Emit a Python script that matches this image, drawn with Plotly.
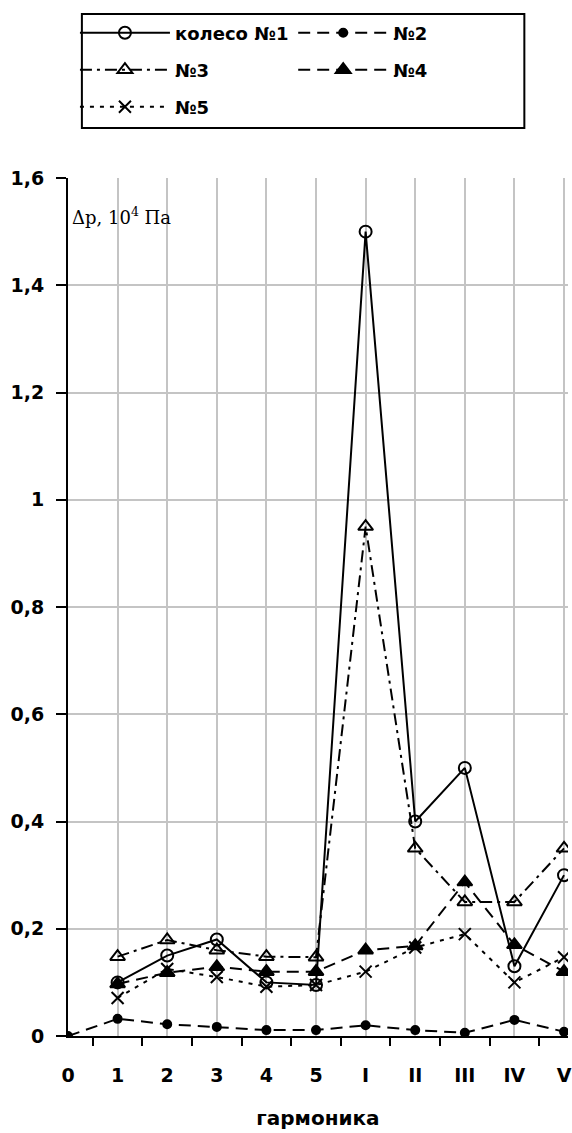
import plotly.graph_objects as go

# ---- data ----
harmonics = ["0", "1", "2", "3", "4", "5", "I", "II", "III", "IV", "V"]
wheel1 = [None, 0.10, 0.15, 0.18, 0.10, 0.095, 1.50, 0.40, 0.50, 0.13, 0.30]
wheel2 = [0.0, 0.032, 0.022, 0.017, 0.011, 0.011, 0.020, 0.011, 0.006, 0.030, 0.008]
wheel3 = [None, 0.148, 0.179, 0.16, 0.148, 0.147, 0.95, 0.35, 0.25, 0.25, 0.35]
wheel4 = [None, 0.097, 0.118, 0.129, 0.12, 0.12, 0.16, 0.168, 0.287, 0.17, 0.12]
wheel5 = [None, 0.071, 0.125, 0.11, 0.092, 0.095, 0.12, 0.165, 0.19, 0.10, 0.147]
names = ["колесо №1", "№2", "№3", "№4", "№5"]
y_tickvals = [0, 0.2, 0.4, 0.6, 0.8, 1.0, 1.2, 1.4, 1.6]
y_ticktext = ["0", "0,2", "0,4", "0,6", "0,8", "1", "1,2", "1,4", "1,6"]

# ---- layout geometry (pixels) ----
W, H = 572, 1133
L, R, T, B = 68, 0, 178, 97
PW, PH = W - L - R, H - T - B
x_idx = list(range(len(harmonics)))
SANS = "DejaVu Sans, Arial"


def px_x(p):
    return (p - L) / PW


def px_y(p):
    return (H - B - p) / PH


styles = [
    dict(dash="solid", symbol="circle-open", size=12),
    dict(dash="12px,7px", symbol="circle", size=8),
    dict(dash="12px,5px,3px,5px", symbol="triangle-up-open", size=13),
    dict(dash="12px,7px", symbol="triangle-up", size=13),
    dict(dash="4px,6px", symbol="x-thin-open", size=12),
]
series = [wheel1, wheel2, wheel3, wheel4, wheel5]
legend_ids = ["legend", "legend2", "legend3", "legend4", "legend5"]
# legend item positions (pixel): left x, center y
leg_pos = [(75, 33), (295, 33), (75, 70), (295, 70), (75, 107)]

fig = go.Figure()
for i, (vals, st, nm) in enumerate(zip(series, styles, names)):
    fig.add_trace(go.Scatter(
        x=x_idx, y=vals, name=nm, mode="lines+markers",
        line=dict(color="black", width=2, dash=st["dash"]),
        marker=dict(symbol=st["symbol"], size=st["size"], color="black",
                    line=dict(color="black", width=2)),
        legend=legend_ids[i],
    ))

legend_common = dict(
    orientation="h", bgcolor="rgba(0,0,0,0)", borderwidth=0,
    font=dict(family=SANS, size=18, color="black", weight="bold"),
    itemwidth=90, xanchor="left", yanchor="middle",
)
leg_layout = {}
for lid, (lx, ly) in zip(legend_ids, leg_pos):
    leg_layout[lid] = dict(x=px_x(lx), y=px_y(ly), **legend_common)

fig.update_layout(
    width=W, height=H,
    margin=dict(l=L, r=R, t=T, b=B, pad=0),
    paper_bgcolor="white", plot_bgcolor="white",
    showlegend=True,
    **leg_layout,
    xaxis=dict(
        range=[0, (PW) / ((568 - L) / 10)],
        tickmode="array", tickvals=x_idx, ticktext=harmonics,
        ticks="", ticklabelstandoff=21, ticklabeloverflow="allow",
        showgrid=True, gridcolor="#c4c4c4", gridwidth=2,
        showline=True, linecolor="black", linewidth=2,
        zeroline=False,
        tickfont=dict(family=SANS, size=19, color="black", weight="bold"),
        minor=dict(tick0=0.5, dtick=1, ticks="outside", ticklen=8, tickwidth=2,
                   tickcolor="black", showgrid=False),
        title=dict(text="гармоника", standoff=26,
                   font=dict(family=SANS, size=20, color="black", weight="bold")),
    ),
    yaxis=dict(
        range=[0, 1.6],
        tickmode="array", tickvals=y_tickvals, ticktext=y_ticktext,
        ticks="outside", ticklen=10, tickwidth=2, tickcolor="black",
        ticklabelstandoff=8,
        showgrid=True, gridcolor="#c4c4c4", gridwidth=2,
        showline=True, linecolor="black", linewidth=2,
        zeroline=False,
        tickfont=dict(family=SANS, size=19, color="black", weight="bold"),
    ),
    shapes=[dict(type="rect", xref="paper", yref="paper",
                 x0=px_x(82), x1=px_x(528), y0=px_y(128), y1=px_y(14),
                 line=dict(color="black", width=2), fillcolor="rgba(0,0,0,0)")],
    annotations=[dict(
        text="Δp, 10<sup>4</sup> Па", xref="paper", yref="paper",
        x=px_x(70), y=px_y(216), xanchor="left", yanchor="middle", showarrow=False,
        font=dict(family="DejaVu Serif, Liberation Serif", size=18, color="black"),
    )],
)

fig.write_html("out.html", config={"displayModeBar": False},
               post_script="document.body.style.margin='0';")
